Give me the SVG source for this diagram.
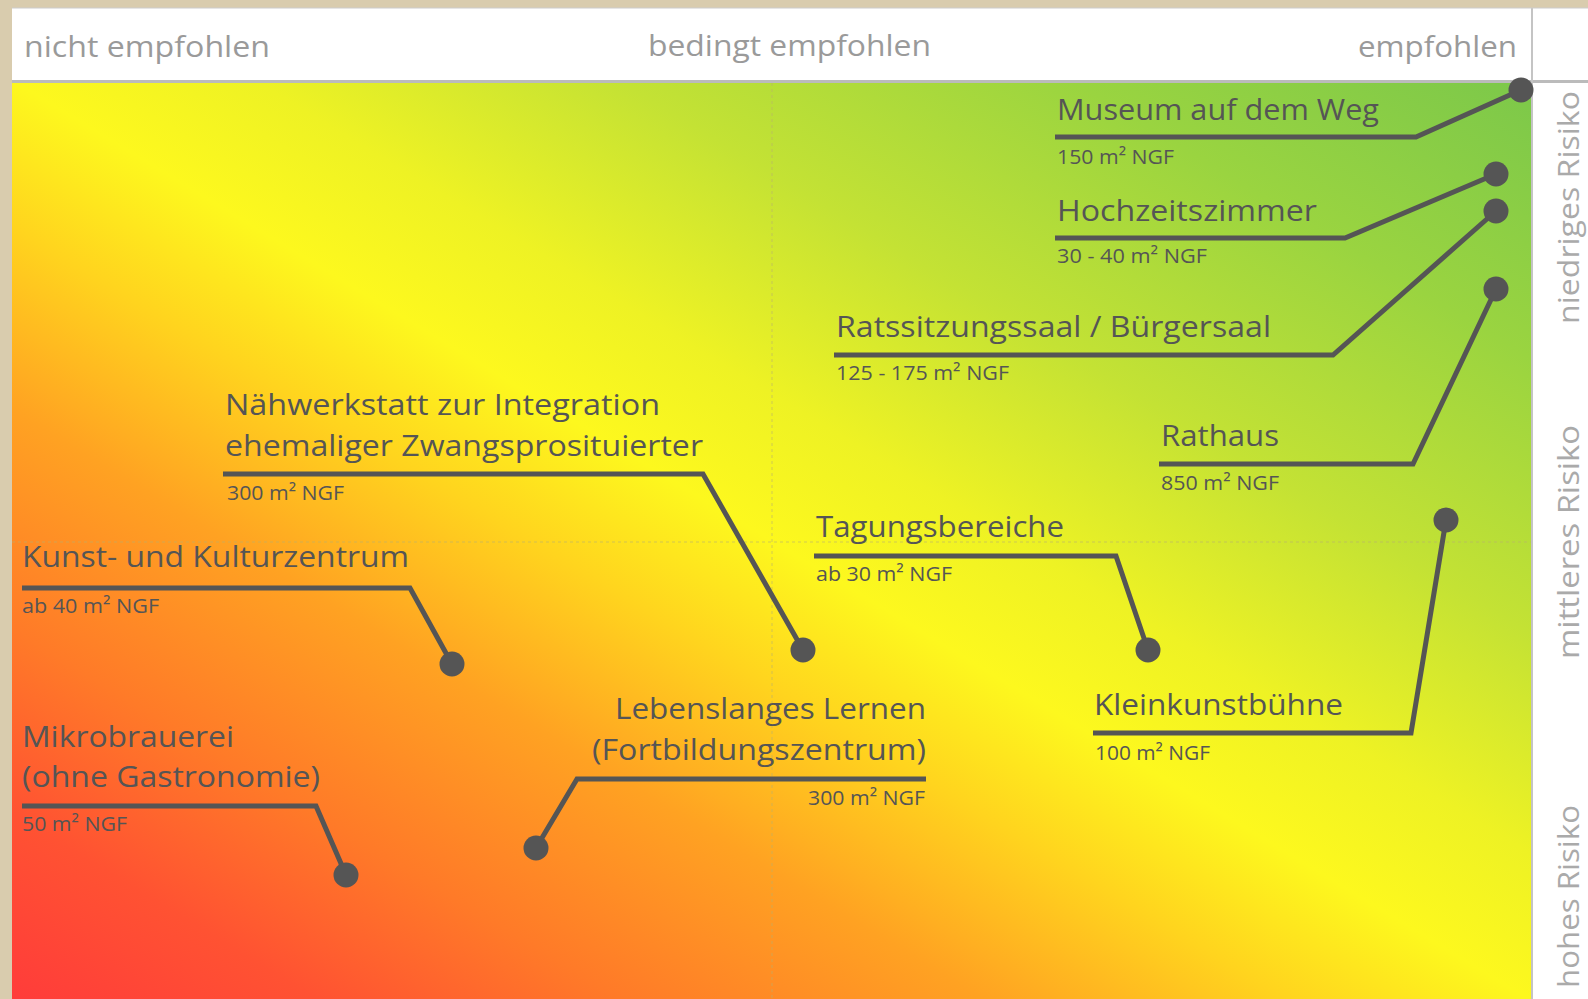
<svg xmlns="http://www.w3.org/2000/svg" width="1588" height="999" viewBox="0 0 1588 999">
<defs>
<linearGradient id="bg" gradientUnits="userSpaceOnUse" x1="399" y1="1232" x2="1212" y2="-110">
<stop offset="0" stop-color="#ff3c3a"/>
<stop offset="0.1" stop-color="#ff5232"/>
<stop offset="0.2" stop-color="#ff7a28"/>
<stop offset="0.32" stop-color="#ffa222"/>
<stop offset="0.42" stop-color="#ffd41e"/>
<stop offset="0.5" stop-color="#fdf81e"/>
<stop offset="0.58" stop-color="#eef224"/>
<stop offset="0.7" stop-color="#c4e234"/>
<stop offset="0.85" stop-color="#9ad440"/>
<stop offset="1" stop-color="#7cc84a"/>
</linearGradient>
<style>
.lbl{font-family:"Open Sans","DejaVu Sans",sans-serif;font-size:30px;fill:#555555}
.sub{font-family:"Open Sans","DejaVu Sans",sans-serif;font-size:20px;fill:#555555}
.hdr{font-family:"Open Sans","DejaVu Sans",sans-serif;font-size:30px;fill:#9a9a9a}
.risk{font-family:"Open Sans","DejaVu Sans",sans-serif;font-size:30px;fill:#aaaaaa}
.con{fill:none;stroke:#555555;stroke-width:5;stroke-linejoin:miter}
.dot{fill:#555555}
.grid{stroke:#b8b070;stroke-width:1;stroke-dasharray:3 3;opacity:0.6}
</style>
</defs>
<rect x="0" y="0" width="1588" height="999" fill="#d9ccae"/>
<rect x="12" y="8" width="1576" height="991" fill="#ffffff"/>
<rect x="12" y="83" width="1519" height="916" fill="url(#bg)"/>
<line x1="12" y1="81.5" x2="1588" y2="81.5" stroke="#bbbbbb" stroke-width="3"/>
<line x1="1532" y1="8" x2="1532" y2="999" stroke="#c4c4c4" stroke-width="2"/>
<line x1="12" y1="8" x2="1588" y2="8" stroke="#cccccc" stroke-width="1"/>
<line class="grid" x1="772" y1="83" x2="772" y2="999"/>
<line class="grid" x1="12" y1="542" x2="1531" y2="542"/>

<g id="header">
<text class="hdr" x="24" y="57" textLength="246" lengthAdjust="spacingAndGlyphs">nicht empfohlen</text>
<text class="hdr" x="648" y="56" textLength="283" lengthAdjust="spacingAndGlyphs">bedingt empfohlen</text>
<text class="hdr" x="1358" y="57" textLength="159" lengthAdjust="spacingAndGlyphs">empfohlen</text>
</g>
<g id="risk">
<text class="risk" transform="translate(1579,324) rotate(-90)" x="0" y="0" textLength="233" lengthAdjust="spacingAndGlyphs">niedriges Risiko</text>
<text class="risk" transform="translate(1579,659) rotate(-90)" x="0" y="0" textLength="234" lengthAdjust="spacingAndGlyphs">mittleres Risiko</text>
<text class="risk" transform="translate(1579,988) rotate(-90)" x="0" y="0" textLength="183" lengthAdjust="spacingAndGlyphs">hohes Risiko</text>
</g>

<g id="connectors">
<polyline class="con" points="1055,137 1416,137 1521,90"/>
<polyline class="con" points="1055,238 1345,238 1496,174"/>
<polyline class="con" points="834,355 1333,355 1496,211"/>
<polyline class="con" points="1159,464 1413,464 1496,289"/>
<polyline class="con" points="814,556 1116,556 1148,650"/>
<polyline class="con" points="1093,733 1411,733 1446,520"/>
<polyline class="con" points="223,474 703,474 803,650"/>
<polyline class="con" points="22,588 410,588 452,664"/>
<polyline class="con" points="22,806 316,806 346,875"/>
<polyline class="con" points="926,779 577,779 536,848"/>
</g>

<g id="museum">
<circle class="dot" cx="1521" cy="90" r="12.5"/>
<text class="lbl" x="1057" y="120" textLength="322" lengthAdjust="spacingAndGlyphs">Museum auf dem Weg</text>
<text class="sub" x="1057" y="164" textLength="117" lengthAdjust="spacingAndGlyphs">150 m² NGF</text>
</g>
<g id="hochzeit">
<circle class="dot" cx="1496" cy="174" r="12.5"/>
<text class="lbl" x="1057" y="221" textLength="260" lengthAdjust="spacingAndGlyphs">Hochzeitszimmer</text>
<text class="sub" x="1057" y="263" textLength="150" lengthAdjust="spacingAndGlyphs">30 - 40 m² NGF</text>
</g>
<g id="rats">
<circle class="dot" cx="1496" cy="211" r="12.5"/>
<text class="lbl" x="836" y="337" textLength="435" lengthAdjust="spacingAndGlyphs">Ratssitzungssaal / Bürgersaal</text>
<text class="sub" x="836" y="380" textLength="173" lengthAdjust="spacingAndGlyphs">125 - 175 m² NGF</text>
</g>
<g id="rathaus">
<circle class="dot" cx="1496" cy="289" r="12.5"/>
<text class="lbl" x="1161" y="446" textLength="118" lengthAdjust="spacingAndGlyphs">Rathaus</text>
<text class="sub" x="1161" y="490" textLength="118" lengthAdjust="spacingAndGlyphs">850 m² NGF</text>
</g>
<g id="tagung">
<circle class="dot" cx="1148" cy="650" r="12.5"/>
<text class="lbl" x="816" y="537" textLength="248" lengthAdjust="spacingAndGlyphs">Tagungsbereiche</text>
<text class="sub" x="816" y="581" textLength="136" lengthAdjust="spacingAndGlyphs">ab 30 m² NGF</text>
</g>
<g id="kleinkunst">
<circle class="dot" cx="1446" cy="520" r="12.5"/>
<text class="lbl" x="1094" y="715" textLength="249" lengthAdjust="spacingAndGlyphs">Kleinkunstbühne</text>
<text class="sub" x="1095" y="760" textLength="115" lengthAdjust="spacingAndGlyphs">100 m² NGF</text>
</g>
<g id="naehwerkstatt">
<circle class="dot" cx="803" cy="650" r="12.5"/>
<text class="lbl" x="225" y="415" textLength="435" lengthAdjust="spacingAndGlyphs">Nähwerkstatt zur Integration</text>
<text class="lbl" x="225" y="456" textLength="478" lengthAdjust="spacingAndGlyphs">ehemaliger Zwangsprosituierter</text>
<text class="sub" x="227" y="500" textLength="117" lengthAdjust="spacingAndGlyphs">300 m² NGF</text>
</g>
<g id="kunst">
<circle class="dot" cx="452" cy="664" r="12.5"/>
<text class="lbl" x="22" y="567" textLength="387" lengthAdjust="spacingAndGlyphs">Kunst- und Kulturzentrum</text>
<text class="sub" x="22" y="613" textLength="137" lengthAdjust="spacingAndGlyphs">ab 40 m² NGF</text>
</g>
<g id="mikro">
<circle class="dot" cx="346" cy="875" r="12.5"/>
<text class="lbl" x="22" y="747" textLength="212" lengthAdjust="spacingAndGlyphs">Mikrobrauerei</text>
<text class="lbl" x="22" y="787" textLength="298" lengthAdjust="spacingAndGlyphs">(ohne Gastronomie)</text>
<text class="sub" x="22" y="831" textLength="105" lengthAdjust="spacingAndGlyphs">50 m² NGF</text>
</g>
<g id="lernen">
<circle class="dot" cx="536" cy="848" r="12.5"/>
<text class="lbl" x="615" y="719" textLength="311" lengthAdjust="spacingAndGlyphs">Lebenslanges Lernen</text>
<text class="lbl" x="592" y="760" textLength="334" lengthAdjust="spacingAndGlyphs">(Fortbildungszentrum)</text>
<text class="sub" x="808" y="805" textLength="117" lengthAdjust="spacingAndGlyphs">300 m² NGF</text>
</g>
</svg>
